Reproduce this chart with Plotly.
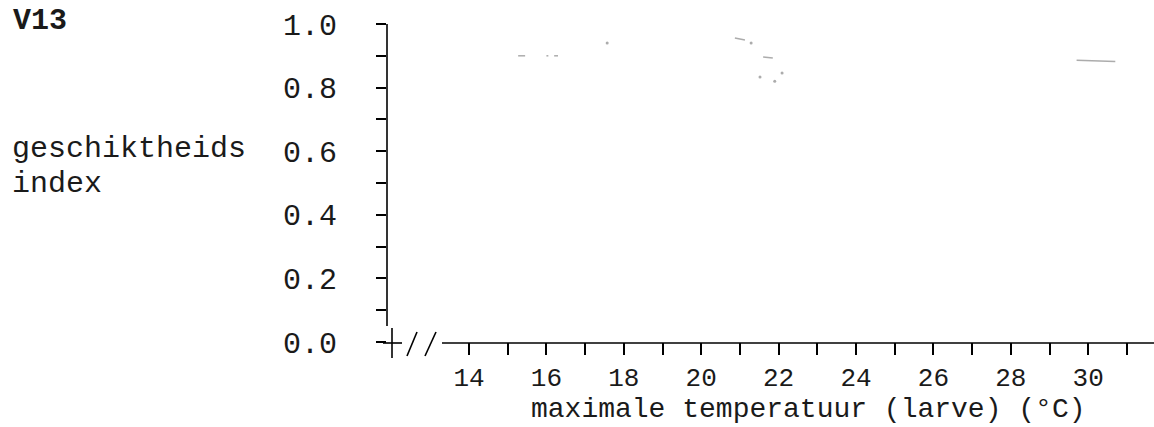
import plotly.graph_objects as go

# ---- data ----
x_ticks = list(range(14, 32))
x_tick_labels = [str(v) if v % 2 == 0 else "" for v in x_ticks]
y_ticks = [round(i * 0.1, 1) for i in range(0, 11)]
y_tick_labels = [f"{v:.1f}" if round(v * 10) % 2 == 0 else "" for v in y_ticks]

# faint remnants of the scanned curve (segments, separated by None)
seg_x = [15.27, 15.45, None, 16.0, 16.05, None, 16.2, 16.3, None, 20.87, 21.13, None,
         21.6, 21.85, None, 29.7, 30.7]
seg_y = [0.90, 0.90, None, 0.90, 0.90, None, 0.90, 0.90, None, 0.956, 0.95, None,
         0.896, 0.893, None, 0.886, 0.882]
dot_x = [17.57, 21.29, 21.52, 21.9, 22.09]
dot_y = [0.94, 0.94, 0.833, 0.82, 0.846]

FONT = "Liberation Mono, Courier New, monospace"
TXT = "#1a1a1a"

fig = go.Figure()
fig.add_trace(go.Scatter(x=seg_x, y=seg_y, mode="lines",
                         line=dict(color="rgba(90,90,90,0.5)", width=1.5),
                         connectgaps=False, showlegend=False, hoverinfo="skip"))
fig.add_trace(go.Scatter(x=dot_x, y=dot_y, mode="markers",
                         marker=dict(color="rgba(90,90,90,0.5)", size=3),
                         showlegend=False, hoverinfo="skip"))

L, R, T, B = 387, 0, 24, 85
W, H = 1154, 427
pw, ph = W - L - R, H - T - B

def px(xp):
    return (xp - L) / pw

def py(yp):
    return (H - B - yp) / ph

line = dict(color="black", width=1.6)
shapes = [
    # y axis line (broken near 0)
    dict(type="line", xref="paper", yref="paper", x0=0, x1=0, y0=py(326), y1=1, line=line),
    # the "+" at origin
    dict(type="line", xref="paper", yref="paper", x0=px(383), x1=px(402), y0=py(343), y1=py(343), line=line),
    dict(type="line", xref="paper", yref="paper", x0=px(392), x1=px(392), y0=py(328), y1=py(358), line=line),
    # the "//" break
    dict(type="line", xref="paper", yref="paper", x0=px(407), x1=px(417), y0=py(356), y1=py(332), line=line),
    dict(type="line", xref="paper", yref="paper", x0=px(425), x1=px(436), y0=py(356), y1=py(332), line=line),
    # x axis line
    dict(type="line", xref="paper", yref="paper", x0=px(442), x1=1, y0=py(343), y1=py(343), line=line),
]

fig.update_layout(
    width=W, height=H,
    margin=dict(l=L, r=R, t=T, b=B),
    paper_bgcolor="white", plot_bgcolor="white",
    font=dict(family=FONT, color=TXT),
    shapes=shapes,
    xaxis=dict(range=[11.881, 31.70], tickvals=x_ticks, ticktext=x_tick_labels,
               ticks="outside", ticklen=12, tickwidth=1.5, tickcolor="black",
               showline=False, showgrid=False, zeroline=False,
               tickfont=dict(family=FONT, size=26, color=TXT)),
    yaxis=dict(range=[0, 1], tickvals=y_ticks, ticktext=y_tick_labels,
               ticks="outside", ticklen=10, tickwidth=1.5, tickcolor="black",
               showline=False, showgrid=False, zeroline=False,
               ticklabelstandoff=33,
               tickfont=dict(family=FONT, size=30, color=TXT)),
    annotations=[
        dict(text="<b>V13</b>", xref="paper", yref="paper", x=px(11), y=py(21),
             xanchor="left", yanchor="middle", showarrow=False,
             font=dict(family=FONT, size=30, color=TXT)),
        dict(text="geschiktheids", xref="paper", yref="paper", x=px(10), y=py(149),
             xanchor="left", yanchor="middle", showarrow=False,
             font=dict(family=FONT, size=30, color=TXT)),
        dict(text="index", xref="paper", yref="paper", x=px(10), y=py(184),
             xanchor="left", yanchor="middle", showarrow=False,
             font=dict(family=FONT, size=30, color=TXT)),
        dict(text="maximale temperatuur (larve) (°C)", xref="paper", yref="paper",
             x=px(808), y=py(409), xanchor="center", yanchor="middle", showarrow=False,
             font=dict(family=FONT, size=28, color=TXT)),
    ],
)

fig.write_html("out.html")
